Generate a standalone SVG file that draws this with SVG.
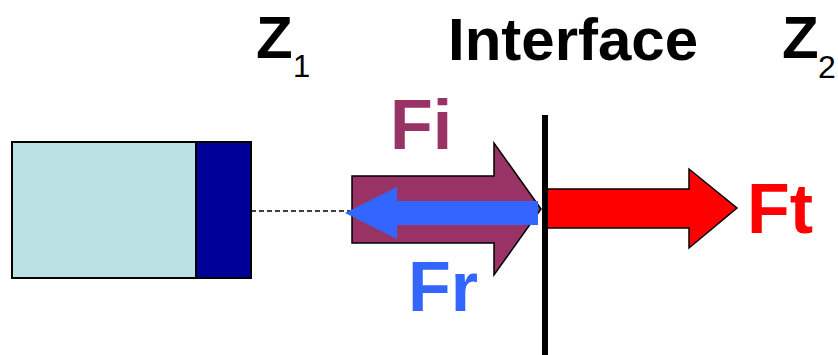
<svg xmlns="http://www.w3.org/2000/svg" width="838" height="355" viewBox="0 0 838 355">
  <style>
    .lbl { font-family: "Liberation Sans", Arial, sans-serif; font-weight: bold; }
    .sub { font-family: "Liberation Sans", Arial, sans-serif; font-weight: normal; }
    .box { stroke: #000; stroke-width: 2; }
    .arrow { stroke: #000; stroke-width: 1.5; stroke-linejoin: miter; }
  </style>
  <rect width="838" height="355" fill="#fff"/>

  <g id="transducer">
    <rect class="box" x="12" y="142" width="184" height="136" fill="#BBE0E3"/>
    <rect class="box" x="196" y="142" width="55" height="136" fill="#000099"/>
  </g>

  <g id="connectors">
    <line x1="251" y1="211" x2="350" y2="211" stroke="#000" stroke-width="1.5" stroke-dasharray="5,3"/>
  </g>

  <g id="incident">
    <polygon class="arrow" fill="#993366" points="352,176 494,176 494,143 541,209 494,275 494,243 352,243"/>
    <text class="lbl" x="390" y="149" font-size="70" fill="#993366">Fi</text>
  </g>

  <g id="reflected">
    <polygon fill="#3366FF" points="538,201 397,201 397,187 345,213 397,239 397,225 538,225"/>
    <text class="lbl" x="408" y="311" font-size="70" fill="#3366FF">Fr</text>
  </g>

  <g id="transmitted">
    <polygon class="arrow" fill="#FF0000" points="547,189 689,189 689,169 737,208 689,248 689,228 547,228"/>
    <text class="lbl" x="747" y="233" font-size="70" fill="#FF0000">Ft</text>
  </g>

  <g id="interface">
    <line x1="545" y1="115" x2="545" y2="355" stroke="#000" stroke-width="6"/>
    <text class="lbl" x="448" y="60" font-size="60" fill="#000">Interface</text>
  </g>

  <g id="z1">
    <text class="lbl" x="256" y="58" font-size="60" fill="#000">Z</text>
    <text class="sub" x="293" y="77" font-size="31" fill="#000">1</text>
  </g>

  <g id="z2">
    <text class="lbl" x="782" y="58" font-size="60" fill="#000">Z</text>
    <text class="sub" x="818" y="78" font-size="32" fill="#000">2</text>
  </g>
</svg>
